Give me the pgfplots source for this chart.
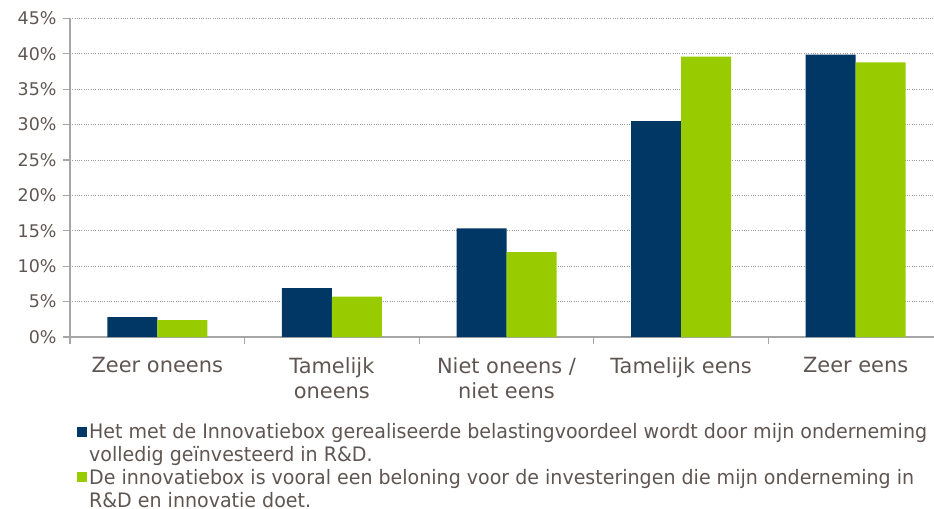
\documentclass[border=0pt]{standalone}
\usepackage{fontspec}
\setmainfont{DejaVu Sans}
\usepackage{graphicx}
\usepackage{pgfplots}
\pgfplotsset{compat=1.18}
\definecolor{cBlue}{HTML}{003764}
\definecolor{cGreen}{HTML}{99CC00}
\definecolor{cText}{HTML}{5F5652}
\definecolor{cAxis}{HTML}{A6A6A6}
\definecolor{cGrid}{HTML}{9A9A9A}

\begin{document}
\begin{tikzpicture}
\path[use as bounding box] (-70bp,-172bp) rectangle (864bp,337bp);
\begin{axis}[
    scale only axis, width=873bp, height=318.6bp,
    xmin=-0.5, xmax=4.5, ymin=0, ymax=45,
    ybar=0pt, bar width=50bp,
    axis lines*=left,
    axis line style={cAxis, line width=1.5bp},
    tick align=outside, major tick length=7bp,
    tick style={cAxis, line width=1.3bp},
    xtick={-0.5,0.5,...,4.5},
    x tick label as interval,
    xticklabels={Zeer oneens, Tamelijk\\oneens, Niet oneens /\\niet eens, Tamelijk eens, Zeer eens},
    x tick label style={align=center, text=cText, font=\fontsize{21}{25}\selectfont, yshift=-10bp},
    ytick={0,5,...,45},
    yticklabel={\pgfmathprintnumber{\tick}\%},
    y tick label style={text=cText, font=\fontsize{17.5}{22}\selectfont, xshift=-3bp},
    /pgf/number format/assume math mode=true,
    ymajorgrids,
    grid style={cGrid, line width=0.9bp, dash pattern=on 1bp off 1.3bp},
    legend style={at={(0.008,-0.268)}, anchor=north west, draw=none, fill=none,
        inner sep=0pt, row sep=0bp,
        font=\fontsize{20}{23}\selectfont, text=cText,
        nodes={inner xsep=2bp, inner ysep=0bp, text depth=, anchor=base west}},
    legend cell align=left,
    legend image code/.code={\fill[#1, draw=none] (0bp,2bp) rectangle (10bp,12bp);},
  ]
  \addplot[fill=cBlue, draw=none] coordinates {(0,2.8) (1,6.9) (2,15.35) (3,30.5) (4,39.9)};
  \addplot[fill=cGreen, draw=none] coordinates {(0,2.4) (1,5.7) (2,12.0) (3,39.6) (4,38.8)};
  \addlegendentry{\scalebox{0.955}[1]{\begin{tabular}[t]{@{}l@{}}Het met de Innovatiebox gerealiseerde belastingvoordeel wordt door mijn onderneming\\volledig geïnvesteerd in R\&D.\end{tabular}}}
  \addlegendentry{\scalebox{0.955}[1]{\begin{tabular}[t]{@{}l@{}}De innovatiebox is vooral een beloning voor de investeringen die mijn onderneming in\\R\&D en innovatie doet.\end{tabular}}}
\end{axis}
\end{tikzpicture}
\end{document}
